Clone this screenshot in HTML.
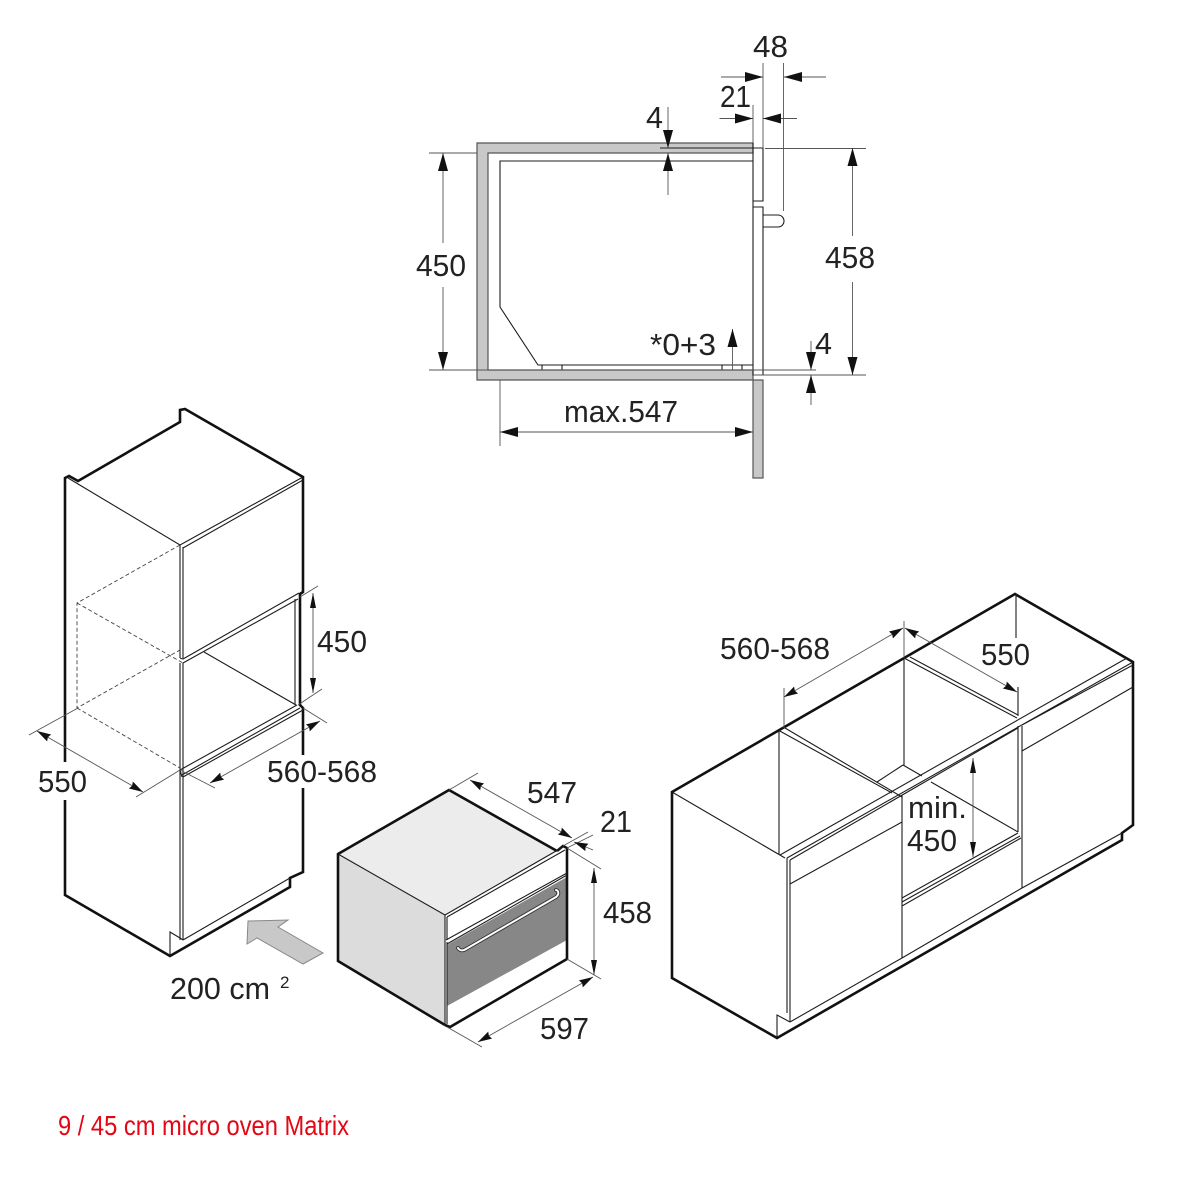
<!DOCTYPE html>
<html><head><meta charset="utf-8"><style>
html,body{margin:0;padding:0;background:#fff}
svg{display:block}
text{font-family:"Liberation Sans",sans-serif;font-size:31px;fill:#222}
.t{stroke:#555;stroke-width:.9;fill:none}
.d{stroke:#1c1c1c;stroke-width:1.1;fill:none}
.k{stroke:#111;stroke-width:2.6;fill:none;stroke-linejoin:miter}
.h{stroke:#444;stroke-width:.9;fill:none;stroke-dasharray:4 2.5}
</style></head><body>
<svg width="1200" height="1200" viewBox="0 0 1200 1200" xmlns="http://www.w3.org/2000/svg">
<defs>
<marker id="a" markerUnits="userSpaceOnUse" markerWidth="20" markerHeight="12" refX="18" refY="5" orient="auto-start-reverse"><path d="M0 0L18 5L0 10Z" fill="#111"/></marker>
<marker id="b" markerUnits="userSpaceOnUse" markerWidth="16" markerHeight="10" refX="14" refY="4" orient="auto-start-reverse"><path d="M0 0L14 4L0 8L1.500 4Z" fill="#111"/></marker>
<marker id="c" markerUnits="userSpaceOnUse" markerWidth="17" markerHeight="8" refX="15" refY="3" orient="auto-start-reverse"><path d="M0 0L15 3L0 6Z" fill="#111"/></marker>
</defs>

<!-- TOP SECTION -->
<path d="M477 143H753V153H488V370H753V380H477Z" fill="#c8c8c8" stroke="#555" stroke-width="1.2"/>
<path class="d" d="M753 161H500V307L538 365H753"/>
<path class="d" d="M542 365V370M562 365V370M722 365V370M742 365V370"/>
<path class="d" d="M660 148H753" />
<path class="d" d="M753 148H763V201H753M753 207H763V375H753V143" stroke="#444"/>
<path class="d" d="M763 215H778A6 6 0 0 1 778 227H763"/>
<rect x="753" y="380" width="10" height="98" fill="#c8c8c8" stroke="#555" stroke-width="1.2"/>

<g class="t">
<path d="M763 63V148M783.500 63V211M753 105V143"/>
<path d="M765 148.500H866M753 375H866M429 153H477M429 370H816M500 380V446"/>
<path d="M721 77H763" marker-end="url(#a)"/>
<path d="M826 77H784" marker-end="url(#a)"/>
<path d="M719.500 118.500H753" marker-end="url(#a)"/>
<path d="M797 118.500H763" marker-end="url(#a)"/>
<path d="M668 107V148" marker-end="url(#a)"/>
<path d="M668 195V153" marker-end="url(#a)"/>
<path d="M852.500 236V148" marker-end="url(#a)"/>
<path d="M852.500 282V375" marker-end="url(#a)"/>
<path d="M443 243V153" marker-end="url(#a)"/>
<path d="M443 287V370" marker-end="url(#a)"/>
<path d="M732.500 370V329" marker-end="url(#a)"/>
<path d="M811 341V370" marker-end="url(#a)"/>
<path d="M811 405V375" marker-end="url(#a)"/>
<path d="M500 432H753" marker-start="url(#a)" marker-end="url(#a)"/>
</g>
<text x="753" y="57" textLength="35" lengthAdjust="spacingAndGlyphs">48</text>
<text x="720" y="107" textLength="31" lengthAdjust="spacingAndGlyphs">21</text>
<text x="646" y="128" textLength="17" lengthAdjust="spacingAndGlyphs">4</text>
<text x="416" y="276" textLength="50" lengthAdjust="spacingAndGlyphs">450</text>
<text x="825" y="268" textLength="50" lengthAdjust="spacingAndGlyphs">458</text>
<text x="650" y="355" textLength="66" lengthAdjust="spacingAndGlyphs">*0+3</text>
<text x="815" y="354" textLength="17" lengthAdjust="spacingAndGlyphs">4</text>
<text x="564" y="422" textLength="114" lengthAdjust="spacingAndGlyphs">max.547</text>

<!-- LEFT CABINET -->
<path class="k" d="M65 762V478L69 476L78 481L180 422V410L185 409L303 477V592L300 594V705L303 708V755M303 788V872L290 878V887L170 956L65 895V800"/>
<g class="d">
<path d="M68 478L180 545L303 477M183 548L303 480"/>
<path d="M180 545V658M183 547V658M180 658L183 659L299 593M183 663L298 599M295 599V705"/>
<path d="M204 652L296 705"/>
<path d="M180 663V940M183 663V778M183 778V940"/>
<path d="M180 770L297 705M182 775L300 708M183 777L303 710M180 770L182 777"/>
<path d="M183 940L290 878M170 956V932L180 938L183 940"/>
</g>
<path class="h" d="M180 545L77 603V708L180 650M77 603L183 663M77 708L180 768"/>
<g class="t">
<path d="M300 597L318 586M298 705L322 689"/>
<path d="M313 593V693" marker-start="url(#c)" marker-end="url(#c)"/>
<path d="M29 735L78 708M136 797L180 770"/>
<path d="M37 731L143 792" marker-start="url(#b)" marker-end="url(#b)"/>
<path d="M303 708L327 723M180 770L215 788"/>
<path d="M210 783L320 721" marker-start="url(#b)" marker-end="url(#b)"/>
</g>
<text x="317" y="652" textLength="50" lengthAdjust="spacingAndGlyphs">450</text>
<text x="38" y="792" textLength="49" lengthAdjust="spacingAndGlyphs">550</text>
<text x="267" y="782" textLength="110" lengthAdjust="spacingAndGlyphs">560-568</text>
<path d="M248 921L288 920L278 927L323 953L303 964L257 938L247 944Z" fill="#c8c8c8" stroke="#888" stroke-width="1"/>
<text x="170" y="999" textLength="100" lengthAdjust="spacingAndGlyphs">200 cm</text>
<text x="280" y="988" style="font-size:17px">2</text>

<!-- OVEN -->
<path d="M449 790L338 854L445 915L557 851Z" fill="#ececec"/>
<path d="M338 854L445 915V1025L338 961Z" fill="#dcdcdc"/>
<path d="M445 915L565 848L567 848V959L450 1027L445 1025Z" fill="#fff"/>
<path d="M447 945L567 877V940L447 1006Z" fill="#878787"/>
<path class="k" d="M445 1025L338 961V854L449 790L557 851"/>
<path class="k" d="M445 1025L450 1027L567 959V848L563 846L557 851" stroke-width="2"/>
<g class="d">
<path d="M338 854L445 915L563 847M445 915V1025M447 917V940M447 942V1024"/>
<path d="M447 917L565 850M446 940L567 873M447 944L567 875"/>
</g>
<path d="M458 948C460 951 463 951 466 949L556 897C560 894 558 890 556 890" fill="none" stroke="#333" stroke-width="3.800" stroke-linecap="round"/>
<path d="M458 948C460 951 463 951 466 949L556 897C560 894 558 890 556 890" fill="none" stroke="#fff" stroke-width="2" stroke-linecap="round"/>
<g class="t">
<path d="M449 790L478 773M563 846L588 832M567 848L593 835"/>
<path d="M470 780L572 838" marker-start="url(#b)" marker-end="url(#b)"/>
<path d="M593 850L574 842" marker-end="url(#b)"/>
<path d="M567 848L601 869M567 959L601 979M447 1027L482 1047"/>
<path d="M594 868V975" marker-start="url(#c)" marker-end="url(#c)"/>
<path d="M478 1042L593 977" marker-start="url(#b)" marker-end="url(#b)"/>
</g>
<text x="527" y="803" textLength="50" lengthAdjust="spacingAndGlyphs">547</text>
<text x="600" y="832" textLength="32" lengthAdjust="spacingAndGlyphs">21</text>
<text x="603" y="923" textLength="49" lengthAdjust="spacingAndGlyphs">458</text>
<text x="540" y="1039" textLength="49" lengthAdjust="spacingAndGlyphs">597</text>

<!-- RIGHT CABINET -->
<path class="k" d="M672 792L1015 594L1133 662V825L1122 833V840L777 1038L672 978Z"/>
<g class="d">
<path d="M672 792L785 858M779 730V855M778 730L892 793M785 728L902 797"/>
<path d="M904 658V765M904 658L1017 718M910 657L1018 715M1016 594V638M1018 687V716"/>
<path d="M1127 658L780 855M1133 662L787 858M1133 665L1022 725M1018 728L790 860"/>
<path d="M1133 687L1022 751M902 822L790 884"/>
<path d="M1018 726V832M1022 726V888M787 858V1013M790 860V1022"/>
<path d="M790 1022L902 958L1022 888L1122 833M902 795V958M777 1038V1015L790 1022"/>
<path d="M902 898L1018 833M902 902L1020 836M902 906L1021 838"/>
<path d="M931 782L1018 832M903 765L877 782M903 765L922 776"/>
</g>
<g class="t">
<path d="M784 688V728M904 621V658"/>
<path d="M784 697L903 628" marker-start="url(#b)" marker-end="url(#b)"/>
<path d="M905 628L1017 692" marker-start="url(#b)" marker-end="url(#b)"/>
<path d="M973 758V857" marker-start="url(#c)" marker-end="url(#c)"/>
</g>
<text x="720" y="659" textLength="110" lengthAdjust="spacingAndGlyphs">560-568</text>
<text x="981" y="665" textLength="49" lengthAdjust="spacingAndGlyphs">550</text>
<text x="908" y="818" textLength="59" lengthAdjust="spacingAndGlyphs">min.</text>
<text x="907" y="851" textLength="50" lengthAdjust="spacingAndGlyphs">450</text>

<text x="58" y="1135" textLength="291" lengthAdjust="spacingAndGlyphs" style="font-size:28px;fill:#e30613">9 / 45 cm micro oven Matrix</text>
</svg>
</body></html>
